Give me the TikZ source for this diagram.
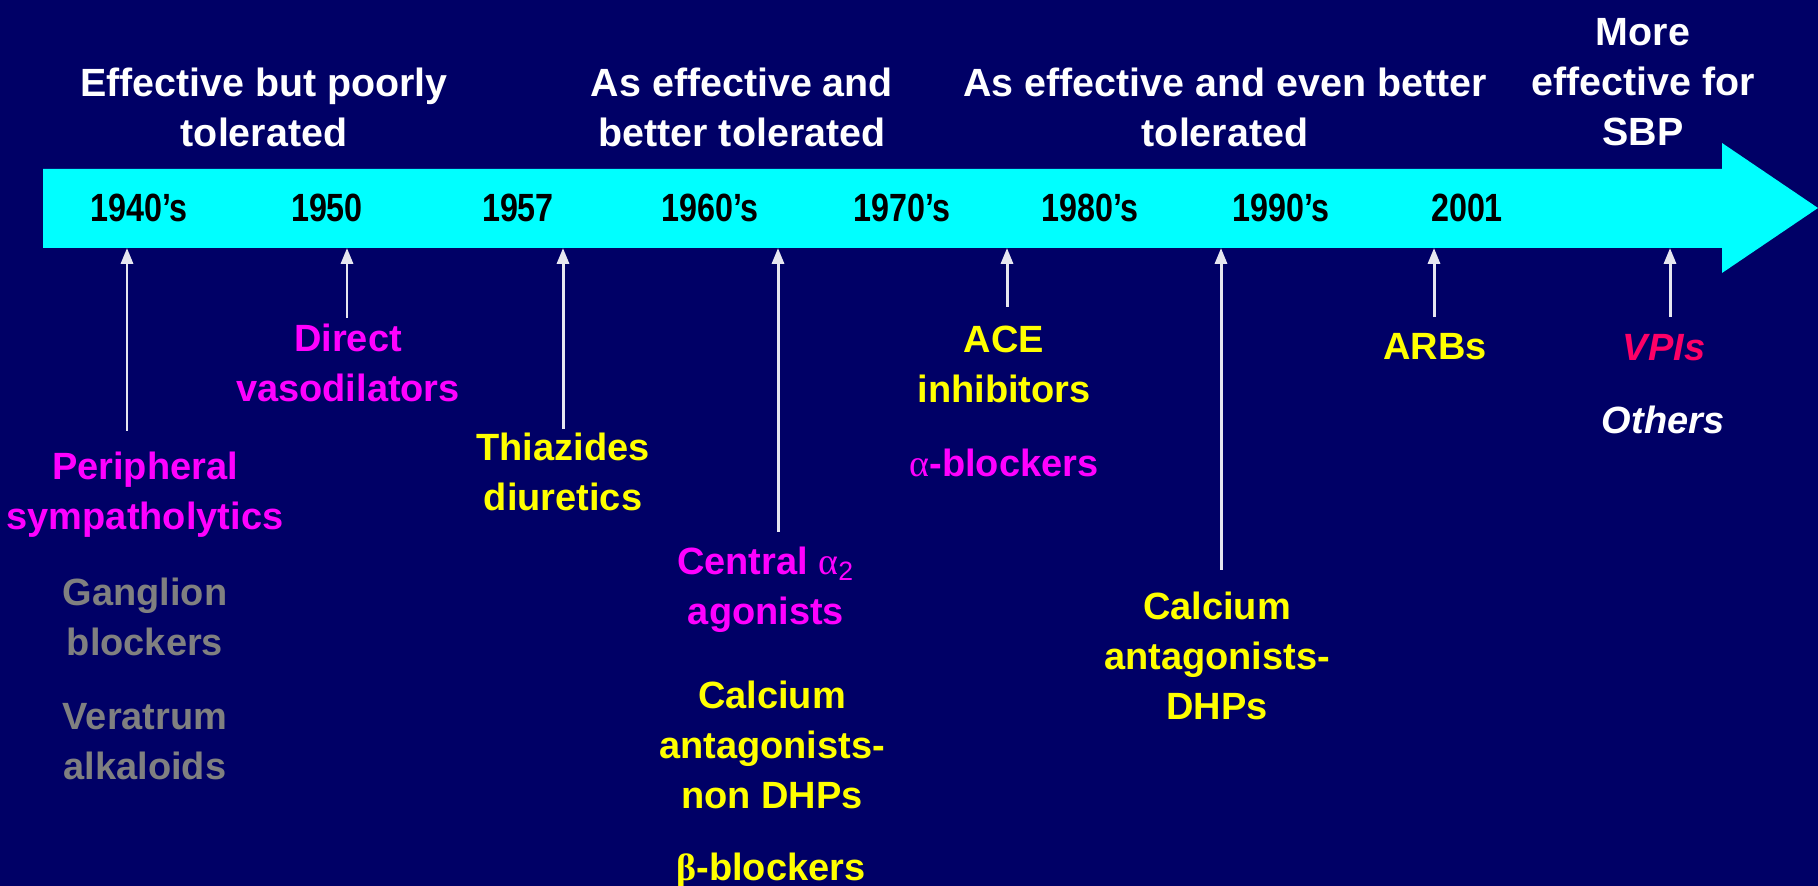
\documentclass[tikz,border=0pt]{standalone}
\usepackage{fontspec}
\setmainfont{Liberation Sans}
\newfontfamily\yearfont[FakeStretch=0.82]{Liberation Sans}
\newfontfamily\grkfont{Liberation Serif}
\usepackage{tikz}
\usetikzlibrary{arrows.meta}
\definecolor{SlideBG}{HTML}{000066}
\definecolor{BarCyan}{HTML}{00FFFF}
\definecolor{DrugMag}{HTML}{FF00FF}
\definecolor{DrugYel}{HTML}{FFFF00}
\definecolor{DrugGray}{HTML}{808080}
\definecolor{DrugRed}{HTML}{FF0066}
\definecolor{TickCol}{HTML}{E6E6F0}
\newcommand{\hdfont}{\fontsize{11.2}{14.2}\selectfont\bfseries}
\newcommand{\lbfont}{\fontsize{10.8}{14.2}\selectfont\bfseries}
\newcommand{\yrfont}{\yearfont\fontsize{11.2}{14.2}\selectfont\bfseries}

\begin{document}
\begin{tikzpicture}[>={Triangle[length=4.5pt,width=3.4pt]}, x=0.01cm, y=-0.01cm]
  \tikzstyle{myhead}=[text=white, font=\hdfont, align=center, inner sep=0pt]
  \tikzstyle{myyear}=[text=black, font=\yrfont, inner sep=0pt]
  \tikzstyle{mydrug}=[font=\lbfont, align=center, inner sep=0pt]
  \tikzstyle{myarr}=[->, line width=0.85pt, TickCol]
  % slide
  \useasboundingbox (0,0) rectangle (1818,886);
  \fill[SlideBG] (0,0) rectangle (1818,886);
  % time bar
  \fill[BarCyan] (43,169) -- (1722,169) -- (1722,143) -- (1818,208)
     -- (1722,273) -- (1722,248) -- (43,248) -- cycle;
  \coordinate (barS) at (43,248);
  % headings
  \node[myhead] (h1) at (264,107) {Effective but poorly\\tolerated};
  \node[myhead] (h2) at (742,107) {As effective and\\better tolerated};
  \node[myhead] (h3) at (1225,107) {As effective and even better\\tolerated};
  \node[myhead] (h4) at (1643,82) {More\\effective for\\SBP};
  % years
  \node[myyear] (y40) at (139,208) {1940’s};
  \node[myyear] (y50) at (327,208) {1950};
  \node[myyear] (y57) at (518,208) {1957};
  \node[myyear] (y60) at (710,208) {1960’s};
  \node[myyear] (y70) at (902,208) {1970’s};
  \node[myyear] (y80) at (1090,208) {1980’s};
  \node[myyear] (y90) at (1281,208) {1990’s};
  \node[myyear] (y01) at (1467,208) {2001};
  % 1940's
  \coordinate (a40) at (127,431);
  \draw[myarr] (a40) -- (a40 |- barS);
  \node[mydrug, text=DrugMag] (perif) at (145,495) {Peripheral\\sympatholytics};
  \node[mydrug, text=DrugGray] (gangl) at (145,617) {Ganglion\\blockers};
  \node[mydrug, text=DrugGray] (verat) at (145,742) {Veratrum\\alkaloids};
  % 1950
  \coordinate (a50) at (347,318);
  \draw[myarr] (a50) -- (a50 |- barS);
  \node[mydrug, text=DrugMag] (vasod) at (348,363) {Direct\\vasodilators};
  % 1957
  \coordinate (a57) at (563,429);
  \draw[myarr] (a57) -- (a57 |- barS);
  \node[mydrug, text=DrugYel] (thiaz) at (563,472) {Thiazides\\diuretics};
  % 1960's
  \coordinate (a60) at (778,532);
  \draw[myarr] (a60) -- (a60 |- barS);
  \node[mydrug, text=DrugMag] (centr) at (766,590)
     {Central {\grkfont\mdseries α}\textsubscript{\mdseries 2}\\agonists};
  \node[mydrug, text=DrugYel] (canon) at (772,745) {Calcium\\antagonists-\\non DHPs};
  \node[mydrug, text=DrugYel] (betab) at (771,871) {{\grkfont β}-blockers};
  % 1970's
  \coordinate (a70) at (1007,307);
  \draw[myarr] (a70) -- (a70 |- barS);
  \node[mydrug, text=DrugYel] (acein) at (1004,364) {ACE\\inhibitors};
  \node[mydrug, text=DrugMag] (alfab) at (1004,463) {{\grkfont\mdseries α}-blockers};
  % 1990's
  \coordinate (a90) at (1221,570);
  \draw[myarr] (a90) -- (a90 |- barS);
  \node[mydrug, text=DrugYel] (cadhp) at (1217,656) {Calcium\\antagonists-\\DHPs};
  % 2001
  \coordinate (a01) at (1434,317);
  \draw[myarr] (a01) -- (a01 |- barS);
  \node[mydrug, text=DrugYel] (arbs) at (1435,347) {ARBs};
  % future
  \coordinate (afu) at (1670,317);
  \draw[myarr] (afu) -- (afu |- barS);
  \node[mydrug, text=DrugRed, font=\lbfont\itshape] (vpis) at (1664,348) {VPIs};
  \node[mydrug, text=white, font=\lbfont\itshape] (other) at (1663,420) {Others};
\end{tikzpicture}
\end{document}
